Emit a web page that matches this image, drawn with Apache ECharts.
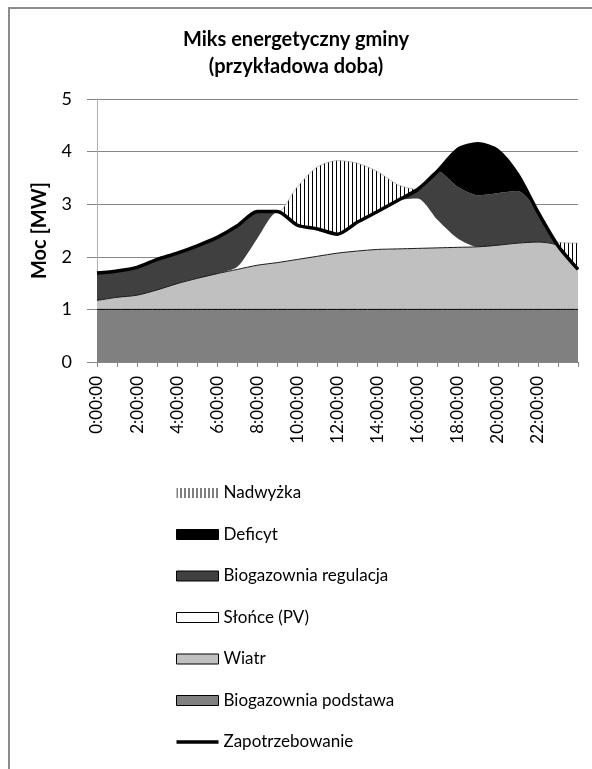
<!DOCTYPE html>
<html>
<head>
<meta charset="utf-8">
<script src="https://cdn.jsdelivr.net/npm/echarts@6/dist/echarts.min.js"></script>
<style>
  html, body { margin: 0; padding: 0; background: #fff; }
  #chart { width: 592px; height: 769px; }
</style>
</head>
<body>
<div id="chart"></div>
<script>
// godziny doby (ostatni punkt = koniec doby)
const hours = ['0:00:00', '1:00:00', '2:00:00', '3:00:00', '4:00:00', '5:00:00', '6:00:00', '7:00:00',
  '8:00:00', '9:00:00', '10:00:00', '11:00:00', '12:00:00', '13:00:00', '14:00:00', '15:00:00',
  '16:00:00', '17:00:00', '18:00:00', '19:00:00', '20:00:00', '21:00:00', '22:00:00', '23:00:00', '0:00:00'];

// MW, warstwy w kolejnosci stosu
const bioBase = [1, 1, 1, 1, 1, 1, 1, 1, 1, 1, 1, 1, 1, 1, 1, 1, 1, 1, 1, 1, 1, 1, 1, 1, 1];
const wind = [0.17, 0.23, 0.27, 0.37, 0.49, 0.59, 0.68, 0.76, 0.84, 0.89, 0.95, 1.01, 1.07, 1.11, 1.14, 1.15,
  1.16, 1.17, 1.18, 1.19, 1.22, 1.26, 1.28, 1.21, 0.76];
const solar = [0, 0, 0, 0, 0, 0, 0, 0.05, 0.51, 0.96, 0.65, 0.52, 0.36, 0.55, 0.72, 0.92,
  0.95, 0.53, 0.17, 0, 0, 0, 0, 0, 0];
const bioReg = [0.52, 0.50, 0.53, 0.58, 0.58, 0.62, 0.69, 0.78, 0.51, 0, 0, 0, 0, 0, 0, 0,
  0.17, 0.93, 0.98, 0.98, 0.99, 0.99, 0.57, 0, 0];
const deficit = [0, 0, 0, 0, 0, 0, 0, 0, 0, 0, 0, 0, 0, 0, 0, 0,
  0, 0, 0.71, 0.98, 0.81, 0.31, 0, 0, 0];
const surplus = [0, 0, 0, 0, 0, 0, 0, 0, 0, 0, 0.73, 1.18, 1.40, 1.12, 0.76, 0.30,
  0, 0, 0, 0, 0, 0, 0, 0.07, 0.50];
const demand = [1.69, 1.73, 1.80, 1.95, 2.07, 2.21, 2.37, 2.59, 2.86, 2.86, 2.60, 2.53, 2.43, 2.66, 2.86, 3.07,
  3.28, 3.63, 4.04, 4.15, 4.02, 3.56, 2.85, 2.21, 1.76];

const yTicks = [0, 1, 2, 3, 4, 5];

const FONT = 'Lato';
const SMOOTH = 0.25;

// kreskowanie pionowe dla nadwyzki
const hatch = document.createElement('canvas');
hatch.width = 4;
hatch.height = 4;
const hctx = hatch.getContext('2d');
hctx.fillStyle = '#fff';
hctx.fillRect(0, 0, 4, 4);
hctx.fillStyle = '#000';
hctx.fillRect(0, 0, 1, 4);
const hatchFill = { image: hatch, repeat: 'repeat' };

const areaSeries = (name, data, fill, line) => ({
  name: name,
  type: 'line',
  stack: 'mix',
  data: data,
  symbol: 'none',
  smooth: SMOOTH,
  silent: true,
  itemStyle: { color: fill },
  lineStyle: line || { width: 0, opacity: 0 },
  areaStyle: { color: fill, opacity: 1 },
  emphasis: { disabled: true }
});

const chart = echarts.init(document.getElementById('chart'));

const option = {
  animation: false,
  title: {
    text: 'Miks energetyczny gminy\n(przykładowa doba)',
    left: 'center',
    top: 21,
    textStyle: { fontFamily: FONT, fontSize: 20, fontWeight: 'bold', color: '#000', lineHeight: 27 }
  },
  graphic: [{
    type: 'rect',
    shape: { x: 9, y: 8, width: 700, height: 900 },
    style: { fill: 'none', stroke: '#8c8c8c', lineWidth: 2 },
    silent: true
  }],
  grid: { left: 97, right: 14, top: 99, bottom: 407 },
  legend: {
    orient: 'vertical',
    left: 176,
    top: 483,
    padding: 0,
    itemWidth: 42,
    itemHeight: 10,
    itemGap: 21.5,
    selectedMode: false,
    textStyle: { fontFamily: FONT, fontSize: 17, color: '#000', lineHeight: 20 },
    data: [
      { name: 'Nadwyżka', icon: 'rect', itemStyle: { color: hatchFill, borderWidth: 0 } },
      { name: 'Deficyt', icon: 'rect', itemStyle: { color: '#000', borderColor: '#000', borderWidth: 1 } },
      { name: 'Biogazownia regulacja', icon: 'rect', itemStyle: { color: '#404040', borderColor: '#000', borderWidth: 1 } },
      { name: 'Słońce (PV)', icon: 'rect', itemStyle: { color: '#fff', borderColor: '#000', borderWidth: 1 } },
      { name: 'Wiatr', icon: 'rect', itemStyle: { color: '#c0c0c0', borderColor: '#000', borderWidth: 1 } },
      { name: 'Biogazownia podstawa', icon: 'rect', itemStyle: { color: '#808080', borderColor: '#000', borderWidth: 1 } },
      { name: 'Zapotrzebowanie', icon: 'path://M0,0H42V3.5H0Z', itemStyle: { color: '#000', borderWidth: 0 } }
    ]
  },
  xAxis: {
    type: 'category',
    data: hours,
    boundaryGap: false,
    axisLine: { lineStyle: { color: '#868686', width: 1 } },
    axisTick: { show: true, length: 5, interval: 0, lineStyle: { color: '#868686' } },
    axisLabel: {
      rotate: 90,
      interval: (i) => i % 2 === 0 && i < hours.length - 1,
      margin: 14,
      padding: [12, 0, 0, 0],
      fontFamily: FONT,
      fontSize: 17,
      color: '#000'
    },
    splitLine: { show: false }
  },
  yAxis: {
    type: 'value',
    min: yTicks[0],
    max: yTicks[yTicks.length - 1],
    interval: 1,
    name: 'Moc [MW]',
    nameLocation: 'middle',
    nameRotate: 90,
    nameGap: 47,
    nameTextStyle: { fontFamily: FONT, fontSize: 20, fontWeight: 'bold', color: '#000' },
    axisLine: { show: true, lineStyle: { color: '#b0b0b0', width: 1 } },
    axisTick: { show: true, length: 10, lineStyle: { color: '#868686' } },
    axisLabel: { fontFamily: FONT, fontSize: 18, color: '#000', margin: 25 },
    splitLine: { show: true, lineStyle: { color: '#868686', width: 1 } }
  },
  series: [
    areaSeries('Biogazownia podstawa', bioBase, '#808080', { color: '#000', width: 1 }),
    areaSeries('Wiatr', wind, '#c0c0c0', { color: '#1a1a1a', width: 1 }),
    areaSeries('Słońce (PV)', solar, '#ffffff'),
    areaSeries('Biogazownia regulacja', bioReg, '#404040'),
    areaSeries('Deficyt', deficit, '#000000'),
    areaSeries('Nadwyżka', surplus, hatchFill, { color: '#9a9a9a', width: 0.6 }),
    {
      name: 'Zapotrzebowanie',
      type: 'line',
      data: demand,
      symbol: 'none',
      smooth: SMOOTH,
      silent: true,
      z: 5,
      itemStyle: { color: '#000' },
      lineStyle: { color: '#000', width: 3.5 },
      emphasis: { disabled: true }
    }
  ]
};

chart.setOption(option);
</script>
</body>
</html>
